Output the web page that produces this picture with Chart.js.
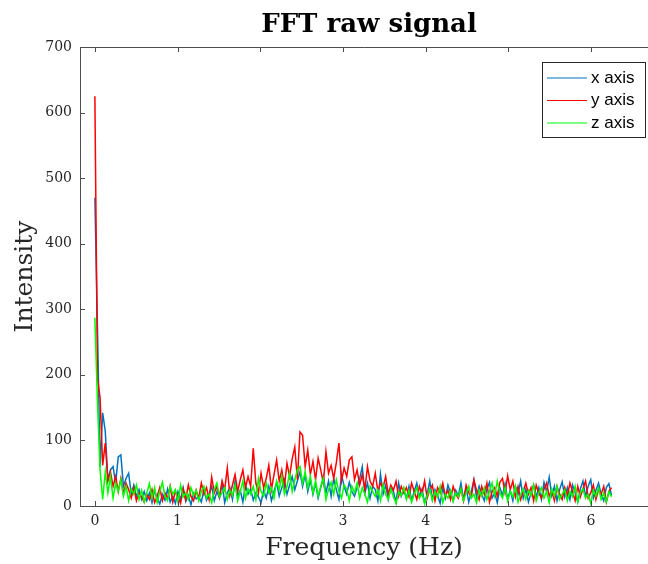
<!DOCTYPE html>
<html>
<head>
<meta charset="utf-8">
<script src="https://cdn.jsdelivr.net/npm/chart.js@4/dist/chart.umd.min.js"></script>
<style>
    html, body { margin: 0; padding: 0; background: #fff; }
    #fft-chart { display: block; }
</style>
</head>
<body>
<canvas id="fft-chart" width="648" height="564"></canvas>
<script>
// Spettro FFT del segnale grezzo, un valore per bin di frequenza
const binWidthHz = 0.0314;

const xAxisIntensity = [
    470, 272, 60, 142, 114, 40, 55, 60, 35, 75, 78, 30, 42, 50, 18, 32, 14, 25, 10, 22,
    8, 20, 5, 24, 12, 3, 18, 9, 26, 6, 15, 4, 22, 10, 28, 7, 16, 2, 19, 11,
    14, 6, 25, 9, 18, 30, 8, 22, 12, 35, 5, 20, 28, 10, 38, 15, 24, 6, 32, 18,
    26, 9, 20, 14, 5, 24, 12, 30, 8, 22, 36, 15, 28, 40, 18, 32, 45, 25, 38, 52,
    30, 48, 22, 40, 18, 35, 12, 28, 45, 20, 38, 15, 42, 25, 10, 48, 30, 18, 36, 22,
    15, 28, 42, 60, 20, 35, 12, 30, 25, 8, 49, 18, 32, 10, 28, 22, 6, 35, 15, 24,
    12, 30, 8, 22, 35, 14, 26, 5, 18, 38, 10, 25, 16, 4, 28, 12, 32, 20, 8, 24,
    15, 35, 10, 28, 6, 22, 40, 14, 30, 18, 8, 26, 36, 12, 20, 5, 28, 16, 34, 10,
    24, 8, 30, 18, 38, 12, 26, 6, 20, 32, 14, 28, 10, 36, 22, 44, 16, 30, 8, 25,
    37, 14, 28, 10, 32, 20, 6, 26, 38, 15, 30, 40, 12, 24, 35, 18, 8, 28, 34, 16
];

const yAxisIntensity = [
    625, 195, 165, 62, 96, 38, 52, 30, 45, 22, 42, 18, 35, 25, 12, 28, 8, 20, 14, 6,
    18, 10, 25, 5, 15, 28, 8, 20, 12, 30, 6, 22, 14, 4, 26, 10, 32, 15, 8, 24,
    12, 35, 18, 28, 10, 44, 20, 30, 14, 38, 25, 58, 16, 32, 48, 22, 40, 55, 28, 45,
    30, 88, 35, 20, 50, 28, 42, 62, 25, 48, 70, 38, 55, 30, 65, 45, 72, 90, 40, 113,
    108, 60, 85, 48, 68, 40, 73, 55, 35, 83, 50, 62, 42, 66, 96, 38, 58, 45, 70, 75,
    40, 55, 32, 48, 25, 60, 38, 30, 50, 22, 35, 28, 45, 18, 32, 24, 38, 15, 30, 20,
    28, 14, 35, 22, 10, 30, 18, 38, 12, 25, 32, 8, 28, 20, 35, 15, 24, 10, 30, 18,
    12, 26, 8, 32, 20, 14, 40, 24, 10, 30, 18, 35, 6, 22, 28, 15, 36, 42, 20, 46,
    25, 38, 14, 30, 10, 22, 35, 18, 28, 8, 32, 20, 12, 26, 35, 15, 24, 8, 30, 18,
    10, 28, 16, 35, 22, 8, 30, 14, 26, 38, 12, 20, 32, 10, 25, 18, 30, 6, 22, 28
];

const zAxisIntensity = [
    287, 158, 55, 10, 52, 20, 45, 12, 35, 22, 40, 15, 30, 8, 26, 18, 32, 10, 24, 6,
    20, 34, 12, 28, 5, 22, 36, 15, 8, 30, 18, 25, 6, 32, 14, 20, 10, 28, 16, 24,
    8, 22, 30, 12, 18, 5, 26, 35, 14, 20, 28, 10, 24, 16, 32, 8, 22, 38, 12, 26,
    18, 30, 10, 42, 22, 15, 35, 20, 28, 12, 38, 25, 45, 18, 30, 50, 22, 40, 55, 60,
    35, 52, 28, 45, 20, 38, 15, 30, 42, 10, 25, 36, 18, 40, 22, 12, 32, 26, 8, 30,
    20, 35, 12, 28, 18, 6, 30, 22, 15, 25, 8, 32, 18, 10, 26, 14, 4, 22, 16, 28,
    10, 24, 6, 18, 28, 12, 20, 3, 16, 26, 8, 22, 14, 30, 5, 18, 12, 24, 7, 20,
    14, 26, 8, 20, 30, 12, 18, 5, 24, 15, 28, 10, 22, 35, 16, 38, 20, 12, 28, 8,
    22, 14, 30, 6, 18, 26, 10, 24, 16, 32, 8, 20, 28, 12, 22, 5, 26, 15, 30, 10,
    18, 25, 8, 22, 14, 30, 6, 20, 26, 12, 18, 4, 24, 15, 28, 10, 20, 6, 22, 14
];

const seriesLabels = ['x axis', 'y axis', 'z axis'];
const xTicks = [0, 1, 2, 3, 4, 5, 6];
const yTicks = [0, 100, 200, 300, 400, 500, 600, 700];

// Asse delle frequenze (bin uniformi)
const frequencyHz = xAxisIntensity.map((_, i) => +(i * binWidthHz).toFixed(4));

function toPoints(values) {
    return values.map((v, i) => ({ x: frequencyHz[i], y: v }));
}

const axisColor = '#4d4d4d';
const serifFont = "'DejaVu Serif', 'Liberation Serif', serif";

// Cornice, tacche interne, titolo e legenda stile MATLAB
const matlabFrame = {
    id: 'matlabFrame',
    afterDraw(chart) {
        const { ctx, chartArea: a, scales } = chart;
        ctx.save();
        ctx.strokeStyle = axisColor;
        ctx.lineWidth = 1;
        ctx.beginPath();
        ctx.moveTo(a.left + 0.5, a.bottom + 0.5);
        ctx.lineTo(a.left + 0.5, a.top + 0.5);
        ctx.lineTo(a.right, a.top + 0.5);
        ctx.moveTo(a.left + 0.5, a.bottom + 0.5);
        ctx.lineTo(a.right, a.bottom + 0.5);
        xTicks.forEach(v => {
            const px = Math.round(scales.x.getPixelForValue(v)) + 0.5;
            ctx.moveTo(px, a.bottom);
            ctx.lineTo(px, a.bottom - 5);
            ctx.moveTo(px, a.top);
            ctx.lineTo(px, a.top + 5);
        });
        yTicks.forEach(v => {
            const py = Math.round(scales.y.getPixelForValue(v)) + 0.5;
            ctx.moveTo(a.left, py);
            ctx.lineTo(a.left + 5, py);
        });
        ctx.stroke();

        // Titolo
        ctx.fillStyle = '#000';
        ctx.font = "bold 26px " + serifFont;
        ctx.textAlign = 'center';
        ctx.textBaseline = 'middle';
        ctx.fillText('FFT raw signal', 369, 25);

        // Legenda
        const box = { left: 542, top: 62, width: 103, height: 75 };
        ctx.fillStyle = '#fff';
        ctx.fillRect(box.left, box.top, box.width, box.height);
        ctx.strokeStyle = '#262626';
        ctx.strokeRect(box.left + 0.5, box.top + 0.5, box.width, box.height);
        ctx.font = "17px 'Liberation Sans', Arial, sans-serif";
        ctx.textAlign = 'left';
        chart.data.datasets.forEach((ds, i) => {
            const y = 78 + i * 22.5;
            ctx.strokeStyle = ds.borderColor;
            ctx.lineWidth = 1.2;
            ctx.beginPath();
            ctx.moveTo(547, y);
            ctx.lineTo(587, y);
            ctx.stroke();
            ctx.fillStyle = '#000';
            ctx.fillText(ds.label, 591, y);
        });
        ctx.restore();
    }
};

const fftChartConfig = {
    type: 'line',
    data: {
        datasets: [
            { label: seriesLabels[0], data: toPoints(xAxisIntensity), borderColor: '#0072BD', order: 3 },
            { label: seriesLabels[1], data: toPoints(yAxisIntensity), borderColor: '#FF0000', order: 2 },
            { label: seriesLabels[2], data: toPoints(zAxisIntensity), borderColor: '#00FF00', order: 1 }
        ]
    },
    options: {
        responsive: false,
        animation: false,
        devicePixelRatio: 1,
        layout: { padding: { top: 47, right: 0, left: 0, bottom: 0 } },
        elements: {
            line: { borderWidth: 1.5, tension: 0 },
            point: { radius: 0 }
        },
        plugins: {
            legend: { display: false },
            title: { display: false },
            tooltip: { enabled: false }
        },
        scales: {
            x: {
                type: 'linear',
                min: -0.18,
                max: 6.69,
                grid: { display: false, drawTicks: false },
                border: { display: false },
                afterBuildTicks: scale => { scale.ticks = xTicks.map(v => ({ value: v })); },
                afterFit: scale => { scale.height = 58; },
                ticks: {
                    padding: 7,
                    color: '#262626',
                    font: { family: serifFont, size: 14 },
                    maxRotation: 0
                },
                title: {
                    display: true,
                    text: 'Frequency (Hz)',
                    color: '#262626',
                    font: { family: serifFont, size: 25 },
                    padding: { top: 0, bottom: 1 }
                }
            },
            y: {
                min: 0,
                max: 700,
                grid: { display: false, drawTicks: false },
                border: { display: false },
                afterBuildTicks: scale => { scale.ticks = yTicks.map(v => ({ value: v })); },
                afterFit: scale => { scale.width = 80; },
                ticks: {
                    padding: 8,
                    color: '#262626',
                    font: { family: serifFont, size: 14 }
                },
                title: {
                    display: true,
                    text: 'Intensity',
                    color: '#262626',
                    font: { family: serifFont, size: 25 },
                    padding: { top: 10, bottom: 0 }
                }
            }
        }
    },
    plugins: [matlabFrame]
};

document.addEventListener('DOMContentLoaded', () => {
    const canvas = document.getElementById('fft-chart');
    new Chart(canvas.getContext('2d'), fftChartConfig);
});
</script>
</body>
</html>
